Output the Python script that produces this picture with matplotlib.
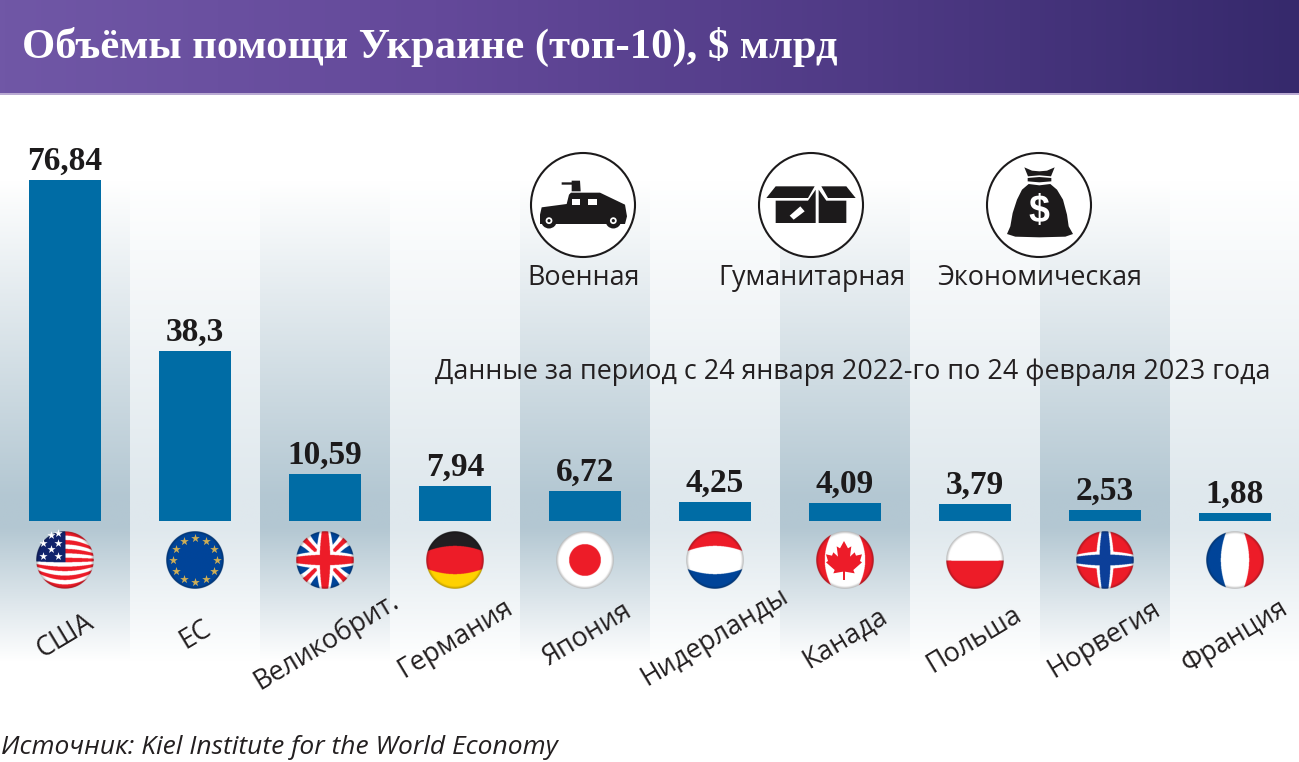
#!/usr/bin/env python3
import numpy as np
import matplotlib
matplotlib.use("Agg")
import matplotlib.pyplot as plt
from matplotlib.patches import Circle, Polygon, Rectangle
from matplotlib.colors import LinearSegmentedColormap

pays = ["США", "ЕС", "Великобрит.", "Германия", "Япония",
        "Нидерланды", "Канада", "Польша", "Норвегия", "Франция"]
montants = [76.84, 38.3, 10.59, 7.94, 6.72, 4.25, 4.09, 3.79, 2.53, 1.88]
drapeaux = ["us", "eu", "uk", "de", "jp", "nl", "ca", "pl", "no", "fr"]
types_aide = ["Военная", "Гуманитарная", "Экономическая"]
titre = "Объёмы помощи Украине (топ-10), $ млрд"
periode = "Данные за период с 24 января 2022-го по 24 февраля 2023 года"
source = "Источник: Kiel Institute for the World Economy"

W, H = 1299, 762
BASE_Y = 521
PX_PAR_UNITE = 4.44
PAS = 130
SANS = ["Open Sans", "DejaVu Sans"]
SERIF = ["Liberation Serif"]
ROUGE = (0.93, 0.11, 0.16)
BLEU = (0.0, 0.27, 0.6)
BLANC = (1, 1, 1)


def image_drapeau(code, n=228):
    u, v = np.meshgrid(np.linspace(-1, 1, n), np.linspace(-1, 1, n))
    d = np.sqrt(u**2 + v**2)
    # coordonnees "a plat" : les bandes se courbent comme sur une sphere
    fx = u / (1 - 0.4 * v**2)
    fy = v / (1 - 0.4 * u**2)
    img = np.ones((n, n, 3))

    def peindre(masque, couleur):
        img[masque] = couleur

    if code == "us":
        bandes = np.floor((fy + 1) * 6.5).astype(int) % 2 == 0
        peindre(bandes, ROUGE)
        peindre((fx < 0.02) & (fy < 0.08), (0.07, 0.14, 0.42))
    elif code == "eu":
        peindre(d < 2, BLEU)
    elif code == "uk":
        peindre(d < 2, BLEU)
        peindre((np.abs(fx - fy) < 0.24) | (np.abs(fx + fy) < 0.24), BLANC)
        peindre((np.abs(fx - fy) < 0.09) | (np.abs(fx + fy) < 0.09), ROUGE)
        peindre((np.abs(fx) < 0.3) | (np.abs(fy) < 0.3), BLANC)
        peindre((np.abs(fx) < 0.18) | (np.abs(fy) < 0.18), ROUGE)
    elif code == "de":
        peindre(fy < -0.49, (0.13, 0.12, 0.13))
        peindre((fy >= -0.49) & (fy < 0.49), ROUGE)
        peindre(fy >= 0.49, (1.0, 0.82, 0.0))
    elif code == "jp":
        peindre(d < 0.55, ROUGE)
    elif code == "nl":
        peindre(fy < -0.49, ROUGE)
        peindre(fy >= 0.49, BLEU)
    elif code == "ca":
        peindre(np.abs(fx) > 0.7, ROUGE)
    elif code == "pl":
        peindre(fy >= 0.03, ROUGE)
    elif code == "no":
        peindre(d < 2, ROUGE)
        peindre((np.abs(fx) < 0.3) | (np.abs(fy) < 0.3), BLANC)
        peindre((np.abs(fx) < 0.19) | (np.abs(fy) < 0.19), (0.05, 0.25, 0.6))
    elif code == "fr":
        peindre(fx < -0.49, BLEU)
        peindre(fx >= 0.49, ROUGE)

    # bord assombri
    ombre = np.clip((d - 0.9) / 0.1, 0, 1)
    img = img * (1 - 0.3 * ombre)[..., None]
    alpha = np.clip((1 - d) * n / 2, 0, 1)
    return np.dstack([img, alpha])


def depuis_zoom(points, ox, oy, echelle=3.0):
    return [(ox + x / echelle, oy + y / echelle) for x, y in points]


def poly(axe, points, ox, oy, couleur="#1c1a1b", z=5):
    axe.add_patch(Polygon(depuis_zoom(points, ox, oy), closed=True,
                          fc=couleur, ec="none", zorder=z))


fig = plt.figure(figsize=(W / 100, H / 100), dpi=100, facecolor="white")

# fond : en-tete et colonnes en degrade
fond = fig.add_axes([0, 0, 1, 1], zorder=0)
fond.axis("off")

degrade_titre = LinearSegmentedColormap.from_list(
    "titre", ["#7057a6", "#64499a", "#4f3a85", "#36296c"])
fond.imshow(np.linspace(0, 1, 256).reshape(1, -1), cmap=degrade_titre,
            extent=(0, W, 93, 0), aspect="auto")
fond.add_patch(Rectangle((0, 93), W, 1.5, fc="#b9aad2", ec="none"))

for i in range(len(pays)):
    pic = "#b3c7d2" if i % 2 == 0 else "#dfe8ed"
    cmap = LinearSegmentedColormap.from_list(
        "colonne", [(0, "#ffffff"), (0.66, pic), (0.72, pic), (1, "#ffffff")])
    fond.imshow(np.linspace(0, 1, 256).reshape(-1, 1), cmap=cmap,
                extent=(i * PAS, (i + 1) * PAS, 662, 180), aspect="auto")
fond.set_xlim(0, W)
fond.set_ylim(H, 0)

# barres
ax = fig.add_axes([0, 0, 1, 1], zorder=1)
ax.patch.set_alpha(0)
ax.axis("off")
ax.set_xlim(-0.5, (W - PAS / 2) / PAS)
ax.set_ylim(-(H - BASE_Y) / PX_PAR_UNITE, BASE_Y / PX_PAR_UNITE)
x = np.arange(len(pays))
ax.bar(x, montants, width=0.56, color="#006ca5")

for xi, m in zip(x, montants):
    ax.annotate(str(m).replace(".", ","), (xi, m), xytext=(0, 10),
                textcoords="offset pixels", ha="center", va="baseline",
                family=SERIF, fontweight="bold", fontsize=24, color="#1c1a1b")

decalages = [(0, -115), (0, -114), (1, -121), (0, -118), (2, -114),
             (0, -116), (0, -117), (-1, -119), (-1, -118), (0, -116)]
for xi, nom, (dx, dy) in zip(x, pays, decalages):
    ax.annotate(nom, (xi, 0), xytext=(dx, dy), textcoords="offset pixels",
                ha="center", va="center", rotation=31, rotation_mode="anchor",
                family=SANS, fontsize=19.4, color="#231f20")

# premier plan : drapeaux, pictos, textes
fg = fig.add_axes([0, 0, 1, 1], zorder=2)
fg.patch.set_alpha(0)
fg.axis("off")

for i, code in enumerate(drapeaux):
    cx = PAS / 2 + i * PAS
    fg.imshow(image_drapeau(code), extent=(cx - 29, cx + 29, 589, 531),
              aspect="auto", interpolation="antialiased",
              interpolation_stage="rgba", zorder=3)
fg.set_xlim(0, W)
fg.set_ylim(H, 0)

# etoiles
etoiles_us = [(58, 533), (50.6, 535), (42.7, 543), (58, 543), (50.6, 549), (42.7, 556), (58, 556)]
fg.scatter(*zip(*etoiles_us), marker="*", s=38, color="white", linewidths=0, zorder=4)
angles = np.arange(12) * np.pi / 6
fg.scatter(195 + 22 * np.cos(angles), 560 + 22 * np.sin(angles), marker="*", s=42,
           color="#cfae55", linewidths=0, zorder=4)

# feuille d'erable
demi = [(0, 48), (12, 70), (22, 64), (18, 95), (32, 82), (36, 92), (54, 88), (48, 108),
        (54, 112), (28, 135), (32, 145), (3, 140), (3, 165)]
feuille = [(132 + a, b) for a, b in demi] + [(132 - a, b) for a, b in reversed(demi)]
poly(fg, feuille, 800, 525, couleur=ROUGE)

# pictogrammes
centres_picto = [583, 811, 1039]
for cx, nom in zip(centres_picto, types_aide):
    fg.add_patch(Circle((cx, 205), 52, fc="white", ec="#1c1a1b", lw=1.5, zorder=4))
    fg.text(cx + 1, 278, nom, ha="center", va="center", family=SANS, fontsize=19.4, color="#231f20")

# vehicule
ox, oy = 525, 148
poly(fg, [(45, 200), (50, 178), (125, 168), (132, 140), (138, 134), (225, 134), (300, 170),
          (306, 205), (300, 228), (45, 228)], ox, oy)
poly(fg, [(110, 103), (140, 103), (140, 98), (165, 98), (167, 130), (140, 130), (140, 110), (110, 110)], ox, oy)
for a, b in [(140, 152), (190, 152)]:
    fg.add_patch(Rectangle((ox + a / 3, oy + b / 3), 26 / 3, 18 / 3, fc="white", ec="none", zorder=6))
for a in [72, 265]:
    fg.add_patch(Circle((ox + a / 3, oy + 218 / 3), 7.8, fc="#1c1a1b", ec="none", zorder=6))
    fg.add_patch(Circle((ox + a / 3, oy + 218 / 3), 3.4, fc="white", ec="none", zorder=7))
    fg.add_patch(Circle((ox + a / 3, oy + 218 / 3), 1.6, fc="#1c1a1b", ec="none", zorder=8))

# carton
ox, oy = 753, 148
poly(fg, [(40, 150), (68, 115), (185, 115), (165, 150)], ox, oy)
poly(fg, [(205, 115), (280, 115), (308, 150), (225, 150)], ox, oy)
poly(fg, [(68, 158), (165, 158), (188, 125), (188, 225), (68, 225)], ox, oy)
poly(fg, [(197, 125), (220, 158), (280, 158), (280, 225), (197, 225)], ox, oy)
poly(fg, [(110, 203), (142, 175), (155, 190), (122, 215)], ox, oy, couleur="white", z=6)

# sac
ox, oy = 982, 148
poly(fg, [(127, 58), (150, 68), (172, 70), (195, 68), (218, 58), (207, 85), (172, 82), (138, 85)], ox, oy)
poly(fg, [(137, 90), (172, 87), (208, 90), (208, 100), (172, 103), (137, 100)], ox, oy)
poly(fg, [(140, 108), (172, 112), (205, 108), (225, 125), (243, 155), (255, 200), (260, 235),
          (273, 258), (250, 266), (172, 268), (100, 266), (75, 258), (85, 235), (92, 195),
          (105, 155), (120, 125)], ox, oy)
fg.text(ox + 172 / 3, oy + 193 / 3, "$", ha="center", va="center", family=["Liberation Sans"],
        fontweight="bold", fontsize=27, color="white", zorder=6)

# textes
fg.text(22, 47, titre, ha="left", va="center", family=SERIF, fontweight="bold",
        fontsize=30.7, color="white")
fg.text(1271, 372, periode, ha="right", va="center", family=SANS, fontsize=19.4, color="#231f20")
fg.text(1, 747, source, ha="left", va="center", family=SANS, style="italic",
        fontsize=19, color="#231f20")

fig.savefig("out.png", dpi=100)
